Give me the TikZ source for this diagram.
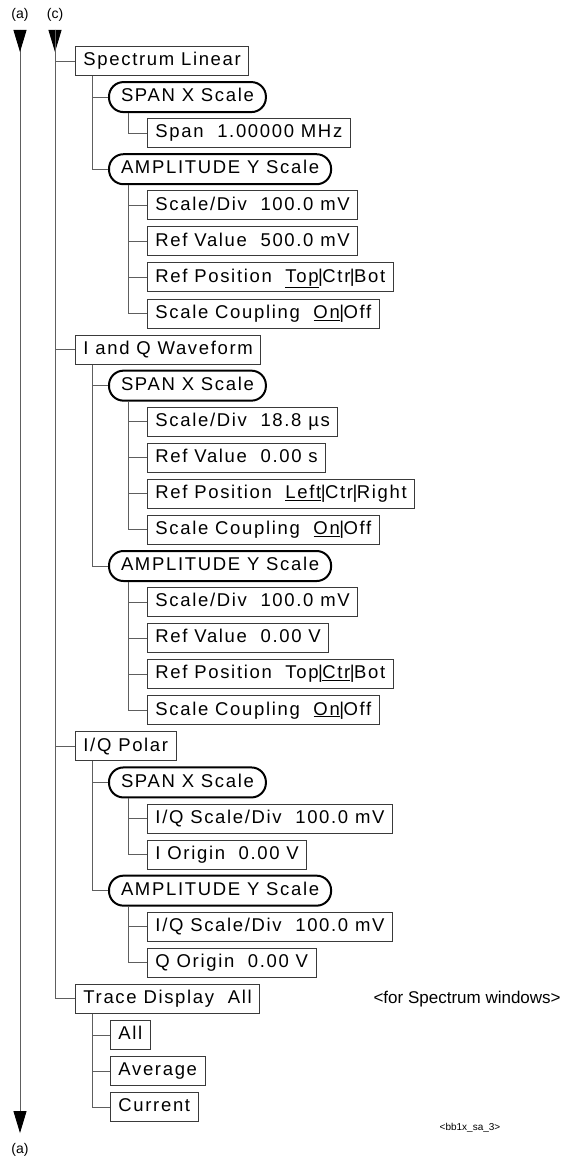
\documentclass[tikz,border=0pt]{standalone}
\usepackage{fontspec}
\setmainfont{Liberation Sans}
\newfontfamily\menufont{Liberation Sans}[LetterSpace=9]
\usetikzlibrary{arrows.meta}
\definecolor{wiregray}{HTML}{5E5E5E}
\definecolor{edgegray}{HTML}{3A3A3A}
\newcommand\sel[1]{\underline{#1}}
\newcommand\optsep{\kern-.5pt|\kern-.5pt}

\begin{document}
\begin{tikzpicture}[x=1pt,y=-36.07pt,
    menu/.style={draw=edgegray,line width=.9pt,anchor=west,
      minimum height=29pt,inner xsep=8pt,inner ysep=0pt,
      text height=13.5pt,text depth=4pt,
      font=\menufont\fontsize{18.5}{21}\selectfont},
    axisbox/.style={menu,draw=black,line width=2pt,
      rounded corners=14.5pt,minimum height=30pt,inner xsep=12pt},
    wire/.style={draw=wiregray,line width=.9pt},
    tip/.style={-{Triangle[length=22pt,width=13pt,black]}},
    tag/.style={font=\fontsize{14}{16}\selectfont}]
  \useasboundingbox (0,-1.691) rectangle (565,30.55);

  % Spectrum Linear
  \node[menu] (sl) at (75,0) {Spectrum Linear};
  \node[axisbox] (slx) at (108,1) {SPAN X Scale};
  \node[menu] (slspan) at (147,2) {Span~~1.00000 MHz};
  \node[axisbox] (sly) at (108,3) {AMPLITUDE Y Scale};
  \node[menu] (slydiv) at (147,4) {Scale/Div~~100.0 mV};
  \node[menu] (slyval) at (147,5) {Ref Value~~500.0 mV};
  \node[menu] (slypos) at (147,6) {Ref Position~~\sel{Top}\optsep Ctr\optsep Bot};
  \node[menu] (slycpl) at (147,7) {Scale Coupling~~\sel{On}\optsep Off};

  % I and Q Waveform
  \node[menu] (iq) at (75,8) {I and Q Waveform};
  \node[axisbox] (iqx) at (108,9) {SPAN X Scale};
  \node[menu] (iqxdiv) at (147,10) {Scale/Div~~18.8 µs};
  \node[menu] (iqxval) at (147,11) {Ref Value~~0.00 s};
  \node[menu] (iqxpos) at (147,12) {Ref Position~~\sel{Left}\optsep Ctr\optsep Right};
  \node[menu] (iqxcpl) at (147,13) {Scale Coupling~~\sel{On}\optsep Off};
  \node[axisbox] (iqy) at (108,14) {AMPLITUDE Y Scale};
  \node[menu] (iqydiv) at (147,15) {Scale/Div~~100.0 mV};
  \node[menu] (iqyval) at (147,16) {Ref Value~~0.00 V};
  \node[menu] (iqypos) at (147,17) {Ref Position~~Top\optsep\sel{Ctr}\optsep Bot};
  \node[menu] (iqycpl) at (147,18) {Scale Coupling~~\sel{On}\optsep Off};

  % I/Q Polar
  \node[menu] (pol) at (75,19) {I/Q Polar};
  \node[axisbox] (polx) at (108,20) {SPAN X Scale};
  \node[menu] (polxdiv) at (147,21) {I/Q Scale/Div~~100.0 mV};
  \node[menu] (polxorg) at (147,22) {I Origin~~0.00 V};
  \node[axisbox] (poly) at (108,23) {AMPLITUDE Y Scale};
  \node[menu] (polydiv) at (147,24) {I/Q Scale/Div~~100.0 mV};
  \node[menu] (polyorg) at (147,25) {Q Origin~~0.00 V};

  % Trace Display
  \node[menu] (td) at (75,26) {Trace Display~~All};
  \node[menu] (tdall) at (110,27) {All};
  \node[menu] (tdavg) at (110,28) {Average};
  \node[menu] (tdcur) at (110,29) {Current};
  \node[anchor=west,font=\fontsize{17}{20}\selectfont] (tdnote) at (370,26)
    {<for Spectrum windows>};
  \node[font=\fontsize{10}{12}\selectfont] (figid) at (470,29.58)
    {<bb1x\_sa\_3>};

  % side lines (a) and (c)
  \node[tag] (atag) at (20,-1.275) {(a)};
  \node[tag] (ctag) at (55,-1.275) {(c)};
  \node[tag] (aend) at (20,30.19) {(a)};
  \coordinate (atop) at (20,-0.86);
  \coordinate (abot) at (20,29.72);
  \coordinate (ctop) at (55,-0.86);
  \draw[wire,tip] (atop) -- (abot);
  \draw[wire,tip] (atop) -- ++(0pt,-22pt);
  \draw[wire,tip] (ctop) -- ++(0pt,-22pt);
  \foreach \n in {sl,iq,pol,td}
    \draw[wire] (ctop) |- (\n.west);

  % tree connectors
  \foreach \p/\c in {sl/slx,sl/sly,iq/iqx,iq/iqy,pol/polx,pol/poly,
                     td/tdall,td/tdavg,td/tdcur}
    \draw[wire] ([xshift=17pt]\p.south west) |- (\c.west);
  \foreach \p/\c in {slx/slspan,sly/slydiv,sly/slyval,sly/slypos,sly/slycpl,
                     iqx/iqxdiv,iqx/iqxval,iqx/iqxpos,iqx/iqxcpl,
                     iqy/iqydiv,iqy/iqyval,iqy/iqypos,iqy/iqycpl,
                     polx/polxdiv,polx/polxorg,poly/polydiv,poly/polyorg}
    \draw[wire] ([xshift=20pt]\p.south west) |- (\c.west);
\end{tikzpicture}
\end{document}
